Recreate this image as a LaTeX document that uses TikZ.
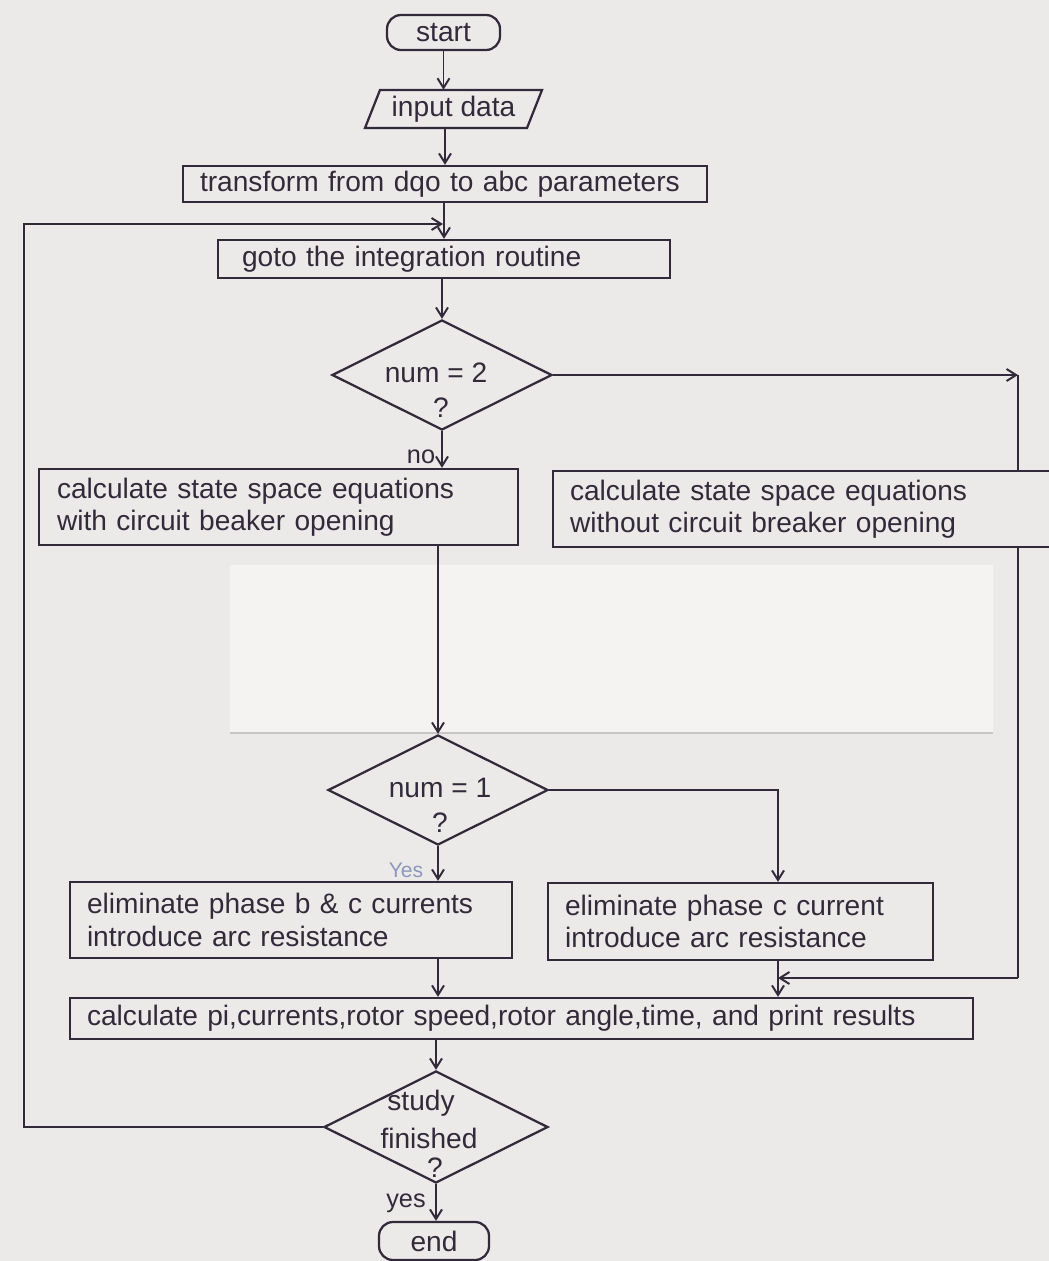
\documentclass[tikz,border=0pt]{standalone}
\usepackage{fontspec}
\setmainfont{Liberation Sans}
\usetikzlibrary{shapes.geometric,arrows.meta}
\definecolor{ink}{RGB}{50,42,58}
\definecolor{paper}{RGB}{236,234,233}
\definecolor{patchfill}{RGB}{244,243,242}
\definecolor{patchedge}{RGB}{200,198,197}
\definecolor{faintblue}{RGB}{140,150,190}
\def\pxu{0.025cm}
\begin{document}
\begin{tikzpicture}[x=0.025cm,y=-0.025cm,
  every node/.style={text=ink},
  mainfont/.style={font=\fontsize{20pt}{23pt}\selectfont},
  lblfont/.style={font=\fontsize{18pt}{20pt}\selectfont},
  procbox/.style={draw=ink, line width=1.6pt, rectangle, inner ysep=0pt, align=left, mainfont},
  termbox/.style={draw=ink, line width=1.6pt, rectangle, rounded corners=0.35cm, inner sep=0pt, mainfont},
  decbox/.style={draw=ink, line width=1.6pt, diamond, aspect=2, inner sep=0pt},
  dectext/.style={mainfont, anchor=base, inner sep=0pt},
  arr/.style={draw=ink, line width=1.4pt, -{Straight Barb[length=2.4mm,width=3mm]}},
  plain/.style={draw=ink, line width=1.4pt}
]
\useasboundingbox (0,0) rectangle (1049,1261);
\clip (0,0) rectangle (1049,1261);
\fill[paper] (0,0) rectangle (1049,1261);
% lighter pasted patch
\fill[patchfill] (230,565) rectangle (993,733);
\draw[patchedge, line width=0.8pt] (230,733) -- (993,733);

% nodes
\node[termbox, minimum width=113*\pxu, minimum height=35*\pxu] (start) at (443.5,32.5) {start};
\node[mainfont, minimum height=38*\pxu, inner sep=0pt] (inp) at (453.5,109) {input data};
\draw[ink, line width=1.6pt] (365,128) -- (527,128) -- (542,90) -- (380,90) -- cycle;
\node[procbox, text width=490*\pxu, inner xsep=17*\pxu, minimum height=36*\pxu] (tr) at (445,184) {transform from dqo to abc parameters};
\node[procbox, text width=404*\pxu, inner xsep=24*\pxu, minimum height=38*\pxu] (goto) at (444,259) {goto the integration routine};
\node[decbox, minimum width=220*\pxu, minimum height=110*\pxu] (d1) at (442,375) {};
\node[dectext] (d1a) at (436,382) {num = 2};
\node[dectext] (d1b) at (441,417) {?};
\node[procbox, text width=443*\pxu, inner xsep=18*\pxu, minimum height=76*\pxu] (lb1) at (278.5,507) {calculate state space equations\\with circuit beaker opening};
\node[procbox, text width=473*\pxu, inner xsep=17*\pxu, minimum height=76*\pxu] (rb1) at (806.5,509) {calculate state space equations\\without circuit breaker opening};
\node[decbox, minimum width=220*\pxu, minimum height=110*\pxu] (d2) at (438,790) {};
\node[dectext] (d2a) at (440,797) {num = 1};
\node[dectext] (d2b) at (440,832) {?};
\node[procbox, text width=408*\pxu, inner xsep=17*\pxu, minimum height=76*\pxu] (lb2) at (291,920) {eliminate phase b \& c currents\\introduce arc resistance};
\node[procbox, text width=351*\pxu, inner xsep=17*\pxu, minimum height=77*\pxu] (rb2) at (740.5,921.5) {eliminate phase c current\\introduce arc resistance};
\node[procbox, text width=869*\pxu, inner xsep=17*\pxu, minimum height=41*\pxu] (fin) at (521.5,1018.5) {calculate pi,currents,rotor speed,rotor angle,time, and print results};
\node[decbox, minimum width=224*\pxu, minimum height=112*\pxu] (d3) at (436,1127) {};
\node[dectext] (d3a) at (421,1110) {study};
\node[dectext] (d3b) at (429,1148) {finished};
\node[dectext] (d3c) at (435,1177) {?};
\node[termbox, minimum width=110*\pxu, minimum height=38*\pxu] (en) at (434,1241) {end};

% labels
\node[lblfont, anchor=base, inner sep=0pt] (nolab) at (421,463) {no};
\node[font=\fontsize{15pt}{17pt}\selectfont, text=faintblue, anchor=base, inner sep=0pt] (yes1) at (406,877) {Yes};
\node[lblfont, anchor=base, inner sep=0pt] (yes2) at (406,1207) {yes};

% helper coordinates
\coordinate (rc) at (1018,0);
\coordinate (mg) at (778,978);
\coordinate (lpc) at (24,224);
\coordinate (lpe) at (443,224);

% connectors
\draw[arr] (start.south) -- (start.south |- inp.north);
\draw[arr] (tr.north |- inp.south) -- (tr.north);
\draw[arr] (goto.north |- tr.south) -- (goto.north);
\draw[arr] (d3.west) -- (d3.west -| lpc) -- (lpc) -- (lpe);
\draw[arr] (d1.north |- goto.south) -- (d1.north);
\draw[arr] (d1.south) -- (d1.south |- lb1.north);
\draw[arr] (d1.east) -- (d1.east -| rc);
\draw[plain] (d1.east -| rc) -- (rc |- rb1.north);
\draw[plain] (rc |- rb1.south) -- (rc |- mg);
\draw[arr] (rc |- mg) -- (mg);
\draw[arr] (lb1.south -| d2.north) -- (d2.north);
\draw[arr] (d2.east) -- (d2.east -| mg) -- (mg |- rb2.north);
\draw[arr] (d2.south) -- (d2.south |- lb2.north);
\draw[arr] (lb2.south -| d2.south) -- (fin.north -| d2.south);
\draw[arr] (mg |- rb2.south) -- (mg |- fin.north);
\draw[arr] (fin.south -| d3.north) -- (d3.north);
\draw[arr] (d3.south) -- (d3.south |- en.north);
\end{tikzpicture}
\end{document}
